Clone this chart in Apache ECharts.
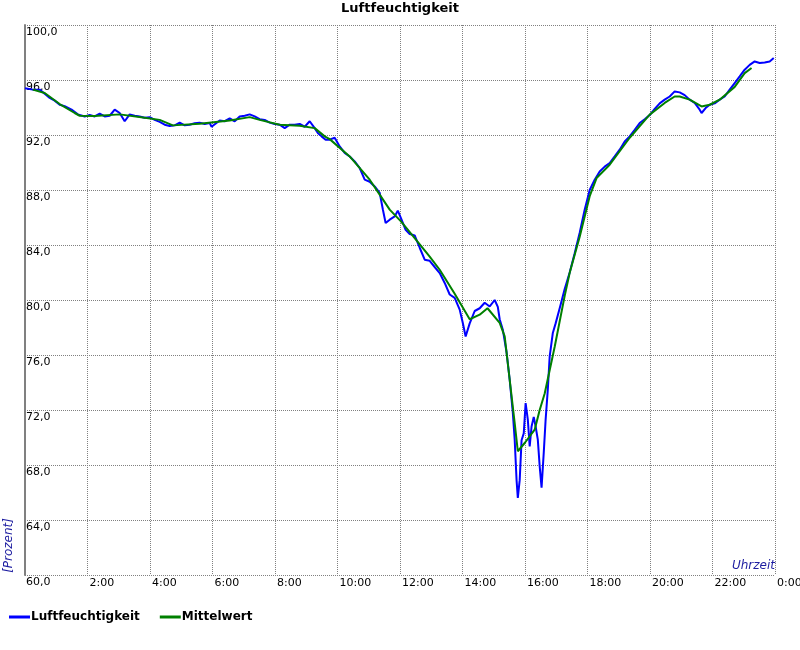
<!DOCTYPE html>
<html>
<head>
<meta charset="utf-8">
<script src="https://cdn.jsdelivr.net/npm/echarts@6/dist/echarts.min.js"></script>
<style>html,body{margin:0;padding:0;background:#fff}#c{width:800px;height:650px}</style>
</head>
<body>
<div id="c"></div>
<script>
// Time in hours of day, humidity in percent
const humidityHours = [0.0,0.25,0.47,0.63,0.79,0.95,1.11,1.27,1.49,1.69,1.91,2.07,2.23,2.39,2.55,2.71,2.87,3.03,3.19,3.35,3.51,3.67,3.83,3.99,4.15,4.31,4.47,4.63,4.79,4.95,5.11,5.27,5.43,5.59,5.75,5.91,5.97,6.23,6.39,6.55,6.71,6.87,7.03,7.19,7.35,7.51,7.67,7.83,7.99,8.15,8.31,8.47,8.63,8.79,8.95,9.11,9.27,9.37,9.49,9.62,9.75,9.91,10.07,10.23,10.39,10.55,10.71,10.87,11.03,11.19,11.35,11.45,11.54,11.67,11.83,11.93,12.05,12.18,12.31,12.47,12.63,12.79,12.95,13.11,13.27,13.43,13.59,13.75,13.91,14.01,14.1,14.23,14.39,14.55,14.71,14.87,15.03,15.13,15.19,15.29,15.41,15.51,15.61,15.67,15.73,15.77,15.83,15.89,15.96,16.02,16.09,16.15,16.21,16.28,16.34,16.41,16.47,16.53,16.6,16.66,16.73,16.79,16.89,16.98,17.11,17.27,17.43,17.59,17.75,17.91,18.07,18.23,18.39,18.55,18.71,18.87,19.03,19.19,19.35,19.51,19.67,19.83,19.99,20.15,20.31,20.47,20.63,20.79,20.95,21.11,21.27,21.43,21.59,21.65,21.78,21.91,22.07,22.23,22.39,22.55,22.71,22.87,23.03,23.19,23.35,23.51,23.67,23.83,23.96];
const humidityValues = [95.4,95.3,95.3,95.0,94.7,94.5,94.2,94.1,93.85,93.5,93.35,93.45,93.35,93.55,93.35,93.4,93.85,93.6,93.0,93.5,93.4,93.35,93.25,93.3,93.1,92.95,92.75,92.65,92.7,92.9,92.7,92.75,92.85,92.9,92.8,92.87,92.6,93.06,93.0,93.2,93.0,93.35,93.4,93.5,93.35,93.15,93.1,92.9,92.8,92.75,92.5,92.75,92.75,92.8,92.6,93.0,92.5,92.15,91.9,91.65,91.66,91.8,91.17,90.7,90.44,90.08,89.6,88.75,88.6,88.26,87.8,86.6,85.6,85.84,86.08,86.5,85.84,85.1,84.8,84.7,83.8,82.93,82.85,82.4,81.96,81.24,80.4,80.15,79.3,78.33,77.35,78.3,79.2,79.4,79.8,79.53,80.0,79.5,78.6,77.84,76.2,74.2,71.8,69.84,66.9,65.6,66.9,69.8,70.3,72.5,71.3,69.35,70.8,71.5,70.8,69.85,67.9,66.35,68.9,71.3,73.5,75.9,77.6,78.3,79.4,80.8,82.0,83.4,84.9,86.56,88.0,88.75,89.35,89.7,89.96,90.44,90.93,91.53,91.9,92.38,92.87,93.15,93.45,93.9,94.3,94.57,94.8,95.17,95.1,94.9,94.57,94.33,93.84,93.6,93.96,94.2,94.3,94.57,94.8,95.3,95.78,96.26,96.75,97.1,97.35,97.24,97.28,97.35,97.6];
const meanHours = [0.25,0.63,1.11,1.59,1.75,2.23,3.03,3.89,4.31,4.73,5.59,6.55,7.19,7.51,8.15,8.79,9.27,9.59,9.75,10.39,11.03,11.35,11.67,12.03,12.47,12.95,13.27,13.75,14.23,14.55,14.8,15.19,15.35,15.51,15.67,15.77,15.99,16.31,16.47,16.63,16.95,17.27,17.43,17.75,18.07,18.29,18.71,19.35,19.99,20.47,20.79,20.95,21.27,21.65,21.91,22.23,22.71,23.03,23.25];
const meanValues = [95.3,95.05,94.25,93.6,93.4,93.38,93.5,93.23,93.1,92.7,92.82,93.06,93.3,93.1,92.75,92.68,92.5,91.9,91.7,90.44,88.75,87.66,86.57,85.72,84.5,83.15,82.2,80.45,78.6,78.93,79.4,78.33,77.35,74.2,71.05,69.0,69.6,70.57,72.0,73.2,76.6,80.3,81.98,84.6,87.55,88.87,89.84,91.8,93.48,94.33,94.8,94.8,94.57,94.08,94.2,94.57,95.5,96.5,96.87];
const seriesNames = ['Luftfeuchtigkeit','Mittelwert'];
const chartTitle = 'Luftfeuchtigkeit';
const yAxisName = '[Prozent]';
const xAxisName = 'Uhrzeit';

const humidityData = humidityHours.map((h,i)=>[h, humidityValues[i]]);
const meanData = meanHours.map((h,i)=>[h, meanValues[i]]);

const font = 'DejaVu Sans';
const chart = echarts.init(document.getElementById('c'), null, {renderer:'canvas'});
chart.setOption({
  animation:false,
  backgroundColor:'#fff',
  title:{text:chartTitle,left:'center',top:2,padding:0,
    textStyle:{fontFamily:font,fontSize:13,fontWeight:'bold',color:'#000'}},
  legend:{left:9,top:611,itemWidth:21,itemHeight:3,itemGap:20,icon:'rect',padding:0,
    textStyle:{fontFamily:font,fontSize:12,fontWeight:'bold',color:'#000',padding:[0,0,0,-4]},
    data:seriesNames},
  grid:{left:25,right:25,top:25,bottom:75,containLabel:false,outerBoundsMode:'none'},
  xAxis:{type:'value',min:0,max:24,interval:2,
    axisLine:{show:false},axisTick:{show:false},
    splitLine:{show:true,lineStyle:{color:'#808080',type:[1,1],width:1}},
    axisLabel:{showMinLabel:false,margin:3,align:'left',padding:[0,0,0,2],
      fontFamily:font,fontSize:11,color:'#000',
      formatter:v=>(v%24)+':00'}},
  yAxis:{type:'value',min:60,max:100,interval:4,
    axisLine:{show:true,lineStyle:{color:'#808080',width:2}},axisTick:{show:false},
    splitLine:{show:true,lineStyle:{color:'#808080',type:[1,1],width:1}},
    axisLabel:{inside:true,margin:1,verticalAlign:'top',padding:[2,0,0,0],
      fontFamily:font,fontSize:11,color:'#000',
      formatter:v=>v.toFixed(1).replace('.',',')}},
  graphic:[
    {type:'text',left:3,top:518,rotation:Math.PI/2,
      style:{text:yAxisName,fontFamily:font,fontSize:12,fontStyle:'italic',fill:'#1c1ca0'}},
    {type:'text',right:25,top:560,
      style:{text:xAxisName,fontFamily:font,fontSize:12,fontStyle:'italic',fill:'#1c1ca0'}}
  ],
  series:[
    {name:seriesNames[0],type:'line',data:humidityData,showSymbol:false,symbol:'none',
      lineStyle:{color:'#0000ff',width:2},itemStyle:{color:'#0000ff'},z:2},
    {name:seriesNames[1],type:'line',data:meanData,showSymbol:false,symbol:'none',
      lineStyle:{color:'#008000',width:2},itemStyle:{color:'#008000'},z:3}
  ]
});
</script>
</body>
</html>
